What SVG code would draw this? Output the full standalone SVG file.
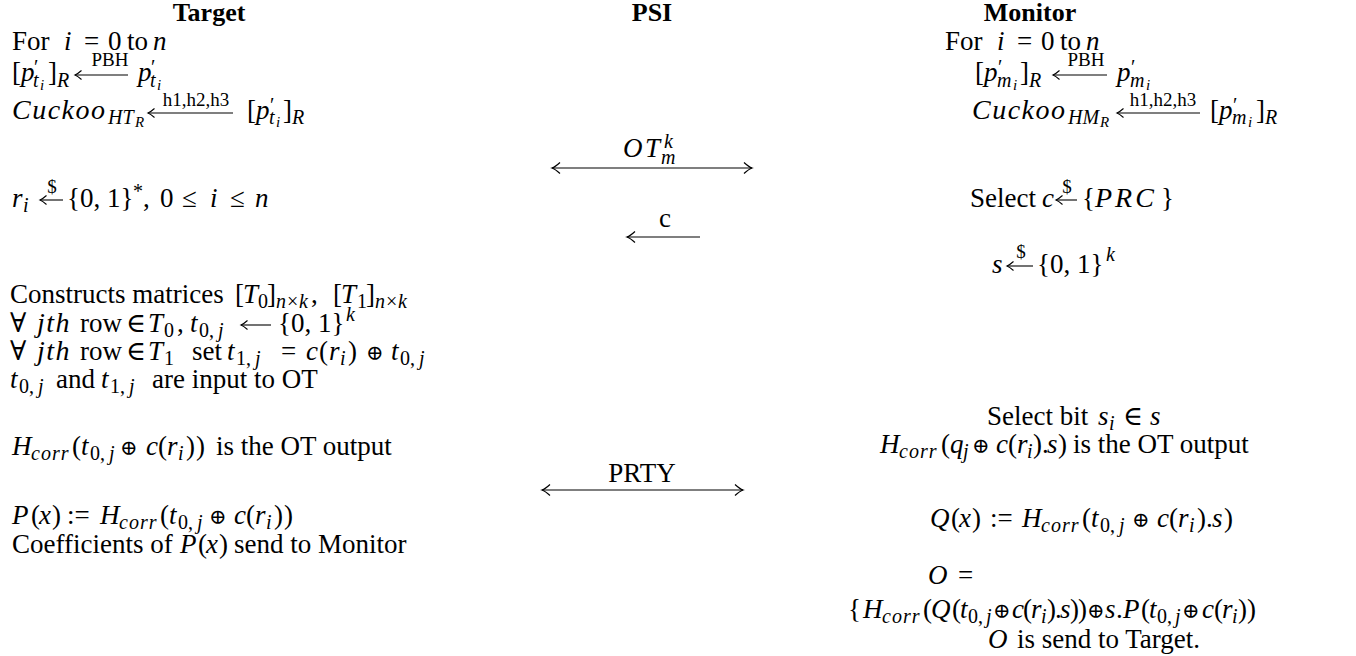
<svg xmlns="http://www.w3.org/2000/svg" width="1356" height="656" viewBox="0 0 1356 656">
<defs>
<style>
text{font-family:"Liberation Serif","DejaVu Serif",serif;font-size:27px;fill:#000}
.i{font-style:italic}
.s{font-size:20px}
.ss{font-size:15px}
.w{font-size:28px;letter-spacing:1.5px}
.sw{font-size:20px;letter-spacing:1px}
.op{font-family:"DejaVu Serif","Liberation Serif",serif;font-size:21px}
.hd{font-weight:bold;font-size:26px;text-anchor:middle}
.lb{font-size:19px;text-anchor:middle}
.mid{text-anchor:middle}
.ln{fill:none;stroke:#000;stroke-width:1.2}
.sm{fill:none;stroke:#000;stroke-width:1.1}
</style>
<marker id="ah" viewBox="-10 -7 12 14" refX="0" refY="0" markerWidth="12" markerHeight="14" markerUnits="userSpaceOnUse" orient="auto-start-reverse"><path d="M-8,-5.5 Q-3,-1 0,0 Q-3,1 -8,5.5" fill="none" stroke="#000" stroke-width="1.2"/></marker>
<marker id="as" viewBox="-8 -6 10 12" refX="0" refY="0" markerWidth="10" markerHeight="12" markerUnits="userSpaceOnUse" orient="auto"><path d="M-6.5,-4.5 Q-2.5,-1 0,0 Q-2.5,1 -6.5,4.5" fill="none" stroke="#000" stroke-width="1.1"/></marker>
</defs>
<rect width="1356" height="656" fill="#fff"/>

<g id="target">
<text class="hd" x="209" y="21">Target</text>
<text><tspan x="12" y="50">For</tspan><tspan class="i" x="64" y="50">i</tspan><tspan x="84" y="50">=</tspan><tspan x="108" y="50">0</tspan><tspan x="127" y="50">to</tspan><tspan class="i" x="153" y="50">n</tspan></text>
<text><tspan x="12" y="81">[</tspan><tspan class="i" x="21" y="81">p</tspan><tspan class="s" x="34" y="74">′</tspan><tspan class="s i" x="33" y="87">t</tspan><tspan class="ss i" x="40" y="90">i</tspan><tspan x="48" y="81">]</tspan><tspan class="s i" x="57" y="87">R</tspan><tspan class="i" x="138" y="81">p</tspan><tspan class="s" x="151" y="74">′</tspan><tspan class="s i" x="150" y="87">t</tspan><tspan class="ss i" x="157" y="90">i</tspan></text>
<path class="sm" d="M128,75H75" marker-end="url(#as)"/>
<text class="lb" x="110" y="66">PBH</text>
<text class="i w" x="12" y="119">Cuckoo</text>
<text><tspan class="s i" x="108" y="124">HT</tspan><tspan class="ss i" x="135" y="127">R</tspan><tspan x="247" y="119">[</tspan><tspan class="i" x="256" y="119">p</tspan><tspan class="s" x="270" y="112">′</tspan><tspan class="s i" x="269" y="124">t</tspan><tspan class="ss i" x="276" y="127">i</tspan><tspan x="283" y="119">]</tspan><tspan class="s i" x="292" y="124">R</tspan></text>
<path class="sm" d="M233,113H148" marker-end="url(#as)"/>
<text class="lb" x="196" y="106">h1,h2,h3</text>
<text><tspan class="i" x="12" y="207">r</tspan><tspan class="s i" x="23" y="212">i</tspan><tspan x="67" y="207">{0, 1}</tspan><tspan class="s" x="133" y="198">*</tspan><tspan x="143" y="207">,</tspan><tspan x="160" y="207">0</tspan><tspan x="182" y="207">≤</tspan><tspan class="i" x="210" y="207">i</tspan><tspan x="230" y="207">≤</tspan><tspan class="i" x="255" y="207">n</tspan></text>
<path class="sm" d="M63,200H40" marker-end="url(#as)"/>
<text class="lb" x="52" y="193">$</text>
<text><tspan x="10" y="303">Constructs matrices</tspan><tspan x="235" y="303">[</tspan><tspan class="i" x="243" y="303">T</tspan><tspan class="s" x="258" y="308">0</tspan><tspan x="267" y="303">]</tspan><tspan class="s i" x="276" y="308">n</tspan><tspan class="s" x="287" y="308">×</tspan><tspan class="s i" x="299" y="308">k</tspan><tspan x="311" y="303">,</tspan><tspan x="333" y="303">[</tspan><tspan class="i" x="341" y="303">T</tspan><tspan class="s" x="357" y="308">1</tspan><tspan x="366" y="303">]</tspan><tspan class="s i" x="375" y="308">n</tspan><tspan class="s" x="386" y="308">×</tspan><tspan class="s i" x="398" y="308">k</tspan></text>
<text><tspan x="10" y="332">∀</tspan><tspan x="80" y="332">row</tspan><tspan x="126" y="332">∈</tspan><tspan class="i" x="148" y="332">T</tspan><tspan class="s" x="164" y="337">0</tspan><tspan x="177" y="332">,</tspan><tspan class="i" x="190" y="332">t</tspan><tspan class="s" x="199" y="337">0,</tspan><tspan class="s i" x="218" y="337">j</tspan><tspan x="278" y="332">{0, 1}</tspan><tspan class="s i" x="346" y="321">k</tspan></text>
<text class="i w" x="37" y="332">jth</text>
<path class="sm" d="M271,325H241" marker-end="url(#as)"/>
<text><tspan x="10" y="360">∀</tspan><tspan x="80" y="360">row</tspan><tspan x="126" y="360">∈</tspan><tspan class="i" x="148" y="360">T</tspan><tspan class="s" x="164" y="365">1</tspan><tspan x="192" y="360">set</tspan><tspan class="i" x="227" y="360">t</tspan><tspan class="s" x="236" y="365">1,</tspan><tspan class="s i" x="255" y="365">j</tspan><tspan x="281" y="360">=</tspan><tspan class="i" x="306" y="360">c</tspan><tspan x="319" y="360">(</tspan><tspan class="i" x="329" y="360">r</tspan><tspan class="s i" x="340" y="365">i</tspan><tspan x="348" y="360">)</tspan><tspan class="op" x="366" y="360">⊕</tspan><tspan class="i" x="391" y="360">t</tspan><tspan class="s" x="400" y="365">0,</tspan><tspan class="s i" x="419" y="365">j</tspan></text>
<text class="i w" x="37" y="360">jth</text>
<text><tspan class="i" x="10" y="388">t</tspan><tspan class="s" x="19" y="393">0,</tspan><tspan class="s i" x="38" y="393">j</tspan><tspan x="56" y="388">and</tspan><tspan class="i" x="101" y="388">t</tspan><tspan class="s" x="110" y="393">1,</tspan><tspan class="s i" x="129" y="393">j</tspan><tspan x="152" y="388">are input to OT</tspan></text>
<text><tspan class="i" x="12" y="455">H</tspan><tspan x="72" y="455">(</tspan><tspan class="i" x="81" y="455">t</tspan><tspan class="s" x="90" y="460">0,</tspan><tspan class="s i" x="109" y="460">j</tspan><tspan class="op" x="120" y="455">⊕</tspan><tspan class="i" x="146" y="455">c</tspan><tspan x="158" y="455">(</tspan><tspan class="i" x="167" y="455">r</tspan><tspan class="s i" x="178" y="460">i</tspan><tspan x="186" y="455">)</tspan><tspan x="196" y="455">)</tspan><tspan x="216" y="455">is the OT output</tspan></text>
<text class="s i sw" x="31" y="460">corr</text>
<text><tspan class="i" x="12" y="524">P</tspan><tspan x="31" y="524">(</tspan><tspan class="i" x="39" y="524">x</tspan><tspan x="52" y="524">)</tspan><tspan x="67" y="524">:=</tspan><tspan class="i" x="100" y="524">H</tspan><tspan x="160" y="524">(</tspan><tspan class="i" x="169" y="524">t</tspan><tspan class="s" x="178" y="529">0,</tspan><tspan class="s i" x="197" y="529">j</tspan><tspan class="op" x="209" y="524">⊕</tspan><tspan class="i" x="234" y="524">c</tspan><tspan x="246" y="524">(</tspan><tspan class="i" x="255" y="524">r</tspan><tspan class="s i" x="266" y="529">i</tspan><tspan x="274" y="524">)</tspan><tspan x="284" y="524">)</tspan></text>
<text class="s i sw" x="119" y="529">corr</text>
<text><tspan x="12" y="553">Coefficients of</tspan><tspan class="i" x="180" y="553">P</tspan><tspan x="198" y="553">(</tspan><tspan class="i" x="206" y="553">x</tspan><tspan x="219" y="553">)</tspan><tspan x="234" y="553">send to Monitor</tspan></text>
</g>

<g id="psi">
<text class="hd" x="652" y="21">PSI</text>
</g>

<g id="monitor">
<text class="hd" x="1030" y="21">Monitor</text>
<text><tspan x="945" y="50">For</tspan><tspan class="i" x="997" y="50">i</tspan><tspan x="1017" y="50">=</tspan><tspan x="1041" y="50">0</tspan><tspan x="1060" y="50">to</tspan><tspan class="i" x="1086" y="50">n</tspan></text>
<text><tspan x="975" y="81">[</tspan><tspan class="i" x="984" y="81">p</tspan><tspan class="s" x="998" y="74">′</tspan><tspan class="s i" x="997" y="87">m</tspan><tspan class="ss i" x="1013" y="90">i</tspan><tspan x="1020" y="81">]</tspan><tspan class="s i" x="1029" y="87">R</tspan><tspan class="i" x="1117" y="81">p</tspan><tspan class="s" x="1131" y="74">′</tspan><tspan class="s i" x="1130" y="87">m</tspan><tspan class="ss i" x="1146" y="90">i</tspan></text>
<path class="sm" d="M1107,75H1053" marker-end="url(#as)"/>
<text class="lb" x="1086" y="66">PBH</text>
<text class="i w" x="972" y="119">Cuckoo</text>
<text><tspan class="s i" x="1068" y="124">HM</tspan><tspan class="ss i" x="1100" y="127">R</tspan><tspan x="1210" y="119">[</tspan><tspan class="i" x="1219" y="119">p</tspan><tspan class="s" x="1233" y="112">′</tspan><tspan class="s i" x="1232" y="124">m</tspan><tspan class="ss i" x="1248" y="127">i</tspan><tspan x="1256" y="119">]</tspan><tspan class="s i" x="1265" y="124">R</tspan></text>
<path class="sm" d="M1200,113H1117" marker-end="url(#as)"/>
<text class="lb" x="1163" y="106">h1,h2,h3</text>
<text><tspan x="970" y="207">Select</tspan><tspan class="i" x="1042" y="207">c</tspan><tspan x="1082" y="207">{</tspan><tspan class="i" x="1095" y="207" font-size="28" letter-spacing="3">PRC</tspan><tspan x="1161" y="207">}</tspan></text>
<path class="sm" d="M1077,200H1056" marker-end="url(#as)"/>
<text class="lb" x="1067" y="193">$</text>
<text><tspan class="i" x="992" y="273">s</tspan><tspan x="1037" y="273">{0, 1}</tspan><tspan class="s i" x="1106" y="261">k</tspan></text>
<path class="sm" d="M1033,266H1007" marker-end="url(#as)"/>
<text class="lb" x="1021" y="258">$</text>
<text><tspan x="987" y="425">Select bit</tspan><tspan class="i" x="1098" y="425">s</tspan><tspan class="s i" x="1109" y="430">i</tspan><tspan x="1123" y="425">∈</tspan><tspan class="i" x="1150" y="425">s</tspan></text>
<text><tspan class="i" x="880" y="453">H</tspan><tspan x="941" y="453">(</tspan><tspan class="i" x="950" y="453">q</tspan><tspan class="s i" x="963" y="458">j</tspan><tspan class="op" x="972" y="453">⊕</tspan><tspan class="i" x="996" y="453">c</tspan><tspan x="1008" y="453">(</tspan><tspan class="i" x="1017" y="453">r</tspan><tspan class="s i" x="1027" y="458">i</tspan><tspan x="1033" y="453">)</tspan><tspan x="1042" y="453">.</tspan><tspan class="i" x="1047" y="453">s</tspan><tspan x="1058" y="453">)</tspan><tspan x="1073" y="453">is the OT output</tspan></text>
<text class="s i sw" x="899" y="458">corr</text>
<text><tspan class="i" x="930" y="527">Q</tspan><tspan x="951" y="527">(</tspan><tspan class="i" x="959" y="527">x</tspan><tspan x="972" y="527">)</tspan><tspan x="990" y="527">:=</tspan><tspan class="i" x="1022" y="527">H</tspan><tspan x="1082" y="527">(</tspan><tspan class="i" x="1091" y="527">t</tspan><tspan class="s" x="1100" y="532">0,</tspan><tspan class="s i" x="1119" y="532">j</tspan><tspan class="op" x="1132" y="527">⊕</tspan><tspan class="i" x="1157" y="527">c</tspan><tspan x="1169" y="527">(</tspan><tspan class="i" x="1178" y="527">r</tspan><tspan class="s i" x="1189" y="532">i</tspan><tspan x="1197" y="527">)</tspan><tspan x="1206" y="527">.</tspan><tspan class="i" x="1212" y="527">s</tspan><tspan x="1224" y="527">)</tspan></text>
<text class="s i sw" x="1041" y="532">corr</text>
<text><tspan class="i" x="928" y="584">O</tspan><tspan x="958" y="584">=</tspan></text>
<text><tspan x="848" y="618">{</tspan><tspan class="i" x="863" y="618">H</tspan><tspan x="923" y="618">(</tspan><tspan class="i" x="931" y="618">Q</tspan><tspan x="952" y="618">(</tspan><tspan class="i" x="960" y="618">t</tspan><tspan class="s" x="968" y="623">0,</tspan><tspan class="s i" x="986" y="623">j</tspan><tspan class="op" x="993" y="618">⊕</tspan><tspan class="i" x="1012" y="618">c</tspan><tspan x="1023" y="618">(</tspan><tspan class="i" x="1031" y="618">r</tspan><tspan class="s i" x="1041" y="623">i</tspan><tspan x="1047" y="618">)</tspan><tspan x="1055" y="618">.</tspan><tspan class="i" x="1060" y="618">s</tspan><tspan x="1070" y="618">)</tspan><tspan x="1078" y="618">)</tspan><tspan class="op" x="1087" y="618">⊕</tspan><tspan class="i" x="1105" y="618">s</tspan><tspan x="1116" y="618">.</tspan><tspan class="i" x="1123" y="618">P</tspan><tspan x="1141" y="618">(</tspan><tspan class="i" x="1149" y="618">t</tspan><tspan class="s" x="1157" y="623">0,</tspan><tspan class="s i" x="1175" y="623">j</tspan><tspan class="op" x="1182" y="618">⊕</tspan><tspan class="i" x="1202" y="618">c</tspan><tspan x="1214" y="618">(</tspan><tspan class="i" x="1222" y="618">r</tspan><tspan class="s i" x="1232" y="623">i</tspan><tspan x="1238" y="618">)</tspan><tspan x="1247" y="618">)</tspan></text>
<text class="s i sw" x="882" y="623">corr</text>
<text><tspan class="i" x="988" y="648">O</tspan><tspan x="1017" y="648">is send to Target.</tspan></text>
</g>

<g id="connectors">
<path class="ln" d="M552,168H752" marker-start="url(#ah)" marker-end="url(#ah)"/>
<text><tspan class="i" x="623" y="157">O</tspan><tspan class="i" x="645" y="157">T</tspan><tspan class="s i" x="664" y="148">k</tspan><tspan class="s i" x="661" y="164">m</tspan></text>
<path class="ln" d="M700,237H627" marker-end="url(#ah)"/>
<text class="mid" x="665" y="227">c</text>
<path class="ln" d="M542,490H743" marker-start="url(#ah)" marker-end="url(#ah)"/>
<text class="mid" x="642" y="482">PRTY</text>
</g>
</svg>
